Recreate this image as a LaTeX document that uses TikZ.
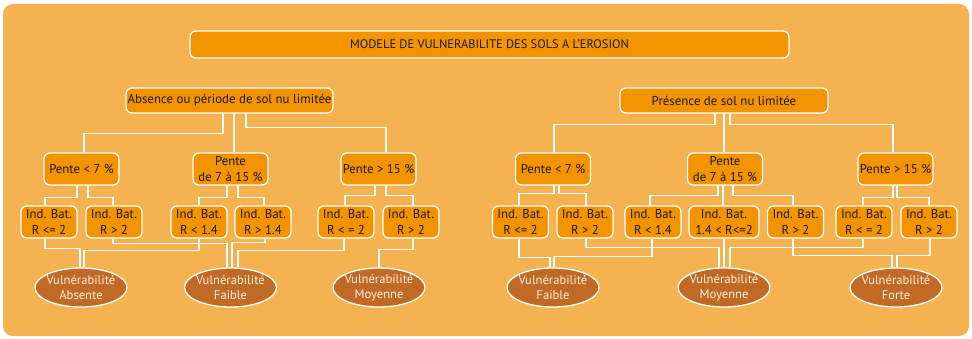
\documentclass[tikz,border=0pt]{standalone}
\usepackage{fontspec}
\setmainfont{PT Sans}
\usetikzlibrary{shapes.geometric,backgrounds}
\definecolor{bgor}{HTML}{F4B350}
\definecolor{boxor}{HTML}{F29400}
\definecolor{ellbr}{HTML}{C06A26}
\definecolor{txtdk}{HTML}{221810}
\definecolor{txtlt}{HTML}{FBEEDC}
\tikzset{
  x=1pt,y=-1pt,
  box/.style={draw=white,line width=1.3pt,fill=boxor,rounded corners=6pt,
    text=txtdk,align=center,inner sep=0pt,font=\fontsize{12.8}{15.5}\selectfont},
  pbox/.style={box,minimum width=75pt,minimum height=32pt},
  ibox/.style={box,minimum width=56pt,minimum height=32pt},
  vell/.style={ellipse,draw=white,line width=1.3pt,fill=ellbr,text=txtlt,align=center,
    inner xsep=-3pt,inner ysep=-2pt,minimum width=92pt,minimum height=39pt,font=\fontsize{12.6}{15}\selectfont},
  conn/.style={draw=white,line width=1.5pt}
}
\begin{document}
\begin{tikzpicture}
\useasboundingbox (0,0) rectangle (972,339);
\begin{pgfonlayer}{background}
\fill[white] (0,0) rectangle (972,339);
\fill[bgor,rounded corners=10pt] (3,4) rectangle (969,336);
\end{pgfonlayer}
% title
\node[box,minimum width=599pt,minimum height=27pt,font=\fontsize{12.4}{14}\selectfont] (title) at (489.5,44.5) {MODELE DE VULNERABILITE DES SOLS A L’EROSION};
% top nodes
\node[box,minimum width=207pt,minimum height=25pt,font=\fontsize{12.9}{15}\selectfont] (abs) at (229.5,100.5) {Absence ou période de sol nu limitée};
\node[box,minimum width=208pt,minimum height=25pt,font=\fontsize{12.9}{15}\selectfont] (pres) at (724,100.5) {Présence de sol nu limitée};
% pente
\node[pbox] (LP1) at (81.5,169) {Pente < 7 \%};
\node[pbox] (LP2) at (230.5,169) {Pente\\de 7 à 15 \%};
\node[pbox] (LP3) at (378.5,169) {Pente > 15 \%};
\node[pbox] (RP1) at (553,169) {Pente < 7 \%};
\node[pbox] (RP2) at (725,169) {Pente\\de 7 à 15 \%};
\node[pbox] (RP3) at (895.5,169) {Pente > 15 \%};
% ind bat
\node[ibox] (LI1) at (49,222) {Ind. Bat.\\R <= 2};
\node[ibox] (LI2) at (114,222) {Ind. Bat.\\R > 2};
\node[ibox] (LI3) at (199,222) {Ind. Bat.\\R < 1.4};
\node[ibox] (LI4) at (263,222) {Ind. Bat.\\R > 1.4};
\node[ibox] (LI5) at (346,222) {Ind. Bat.\\R < = 2};
\node[ibox] (LI6) at (411,222) {Ind. Bat.\\R > 2};
\node[ibox] (RI1) at (520.5,222) {Ind. Bat.\\R <= 2};
\node[ibox] (RI2) at (585,222) {Ind. Bat.\\R > 2};
\node[ibox] (RI3) at (653,222) {Ind. Bat.\\R < 1.4};
\node[ibox,minimum width=70pt] (RI4) at (724,222) {Ind. Bat.\\1.4 < R<=2};
\node[ibox] (RI5) at (795.5,222) {Ind. Bat.\\R > 2};
\node[ibox] (RI6) at (864,222) {Ind. Bat.\\R < = 2};
\node[ibox] (RI7) at (929,222) {Ind. Bat.\\R > 2};
% ellipses
\node[vell] (LE1) at (81,287.5) {Vulnérabilité\\Absente};
\node[vell] (LE2) at (230.5,287.5) {Vulnérabilité\\Faible};
\node[vell] (LE3) at (379,287.5) {Vulnérabilité\\Moyenne};
\node[vell] (RE1) at (553,287.5) {Vulnérabilité\\Faible};
\node[vell] (RE2) at (724,287.5) {Vulnérabilité\\Moyenne};
\node[vell] (RE3) at (896,287.5) {Vulnérabilité\\Forte};
% connectors
\begin{pgfonlayer}{background}
% top level
\draw[conn] ([xshift=-6.5pt]abs.south) -- ++(0,20) -| ([xshift=2.5pt]LP1.north);
\draw[conn] ([xshift=4.5pt]abs.south) -- ([xshift=3.5pt]LP2.north);
\draw[conn] ([xshift=16.5pt]abs.south) -- ++(0,14) -| ([xshift=7.5pt]LP3.north);
\draw[conn] ([xshift=-9pt]pres.south) -- ++(0,11) -| ([xshift=1pt]RP1.north);
\draw[conn] ([xshift=0pt]pres.south) -- ([xshift=-1pt]RP2.north);
\draw[conn] ([xshift=6pt]pres.south) -- ++(0,11) -| ([xshift=-2.5pt]RP3.north);
% pente -> ind
\draw[conn] ([xshift=-4.5pt]LP1.south) -- ++(0,12) -| ([xshift=-4pt]LI1.north);
\draw[conn] ([xshift=6.5pt]LP1.south) -- ++(0,12) -| ([xshift=-1pt]LI2.north);
\draw[conn] ([xshift=-3.5pt]LP2.south) -- ++(0,12) -| ([xshift=0pt]LI3.north);
\draw[conn] ([xshift=7.5pt]LP2.south) -- ++(0,12) -| ([xshift=1pt]LI4.north);
\draw[conn] ([xshift=-3.5pt]LP3.south) -- ++(0,10) -| ([xshift=-1pt]LI5.north);
\draw[conn] ([xshift=7.5pt]LP3.south) -- ++(0,10) -| ([xshift=2pt]LI6.north);
\draw[conn] ([xshift=1pt]RP1.south) -- ++(0,8) -| ([xshift=-1.5pt]RI1.north);
\draw[conn] ([xshift=6pt]RP1.south) -- ++(0,8) -| ([xshift=1pt]RI2.north);
\draw[conn] ([xshift=-7pt]RP2.south) -- ++(0,10) -| ([xshift=-3pt]RI3.north);
\draw[conn] ([xshift=-2pt]RP2.south) -- ([xshift=-1pt]RI4.north);
\draw[conn] ([xshift=8pt]RP2.south) -- ++(0,10) -| ([xshift=-2.5pt]RI5.north);
\draw[conn] ([xshift=-2.5pt]RP3.south) -- ++(0,12) -| ([xshift=-1pt]RI6.north);
\draw[conn] ([xshift=1.5pt]RP3.south) -- ++(0,12) -| ([xshift=0pt]RI7.north);
% ind -> vulnerabilite
\draw[conn] ([xshift=-4pt]LI1.south) -- ++(0,10) -| ([xshift=-1pt]LE1.north);
\draw[conn] ([xshift=0pt]LI3.south) -- ++(0,12) -| ([xshift=3pt]LE1.north);
\draw[conn] ([xshift=-1pt]LI2.south) -- ++(0,5) -| ([xshift=-3.5pt]LE2.north);
\draw[conn] ([xshift=2pt]LI4.south) -- ++(0,4) -| ([xshift=1.5pt]LE2.north);
\draw[conn] ([xshift=-2pt]LI5.south) -- ++(0,12) -| ([xshift=7.5pt]LE2.north);
\draw[conn] ([xshift=2pt]LI6.south) -- ++(0,11) -| ([xshift=0pt]LE3.north);
\draw[conn] ([xshift=-1.5pt]RI1.south) -- ++(0,19) -| ([xshift=-3pt]RE1.north);
\draw[conn] ([xshift=-1pt]RI3.south) -- ++(0,18) -| ([xshift=1pt]RE1.north);
\draw[conn] ([xshift=1pt]RI2.south) -- ++(0,9) -| ([xshift=-5pt]RE2.north);
\draw[conn] ([xshift=0pt]RI4.south) -- ([xshift=0pt]RE2.north);
\draw[conn] ([xshift=-1pt]RI6.south) -- ++(0,9) -| ([xshift=6pt]RE2.north);
\draw[conn] ([xshift=-2.5pt]RI5.south) -- ++(0,17) -| ([xshift=-4pt]RE3.north);
\draw[conn] ([xshift=1pt]RI7.south) -- ++(0,17) -| ([xshift=1pt]RE3.north);
\end{pgfonlayer}
\end{tikzpicture}
\end{document}
